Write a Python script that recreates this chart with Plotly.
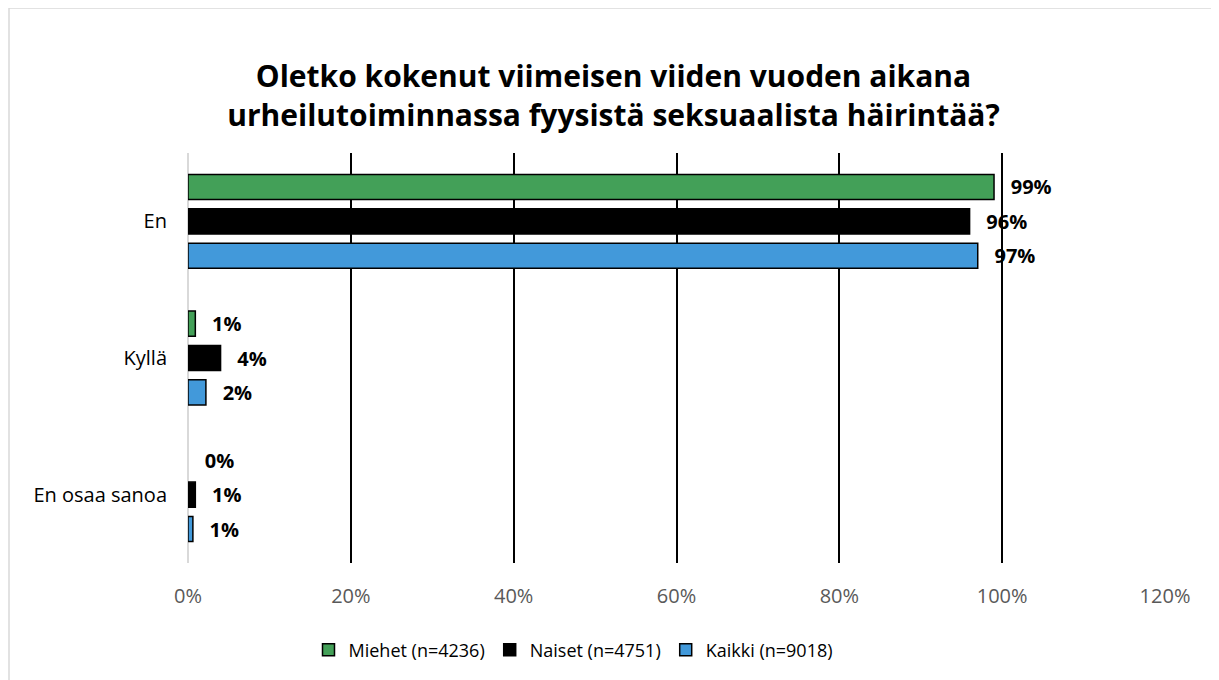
import plotly.graph_objects as go

categories = ["En", "Kyllä", "En osaa sanoa"]
series_names = ["Miehet (n=4236)", "Naiset (n=4751)", "Kaikki (n=9018)"]
miehet = [0.99, 0.009, 0.0]
naiset = [0.96, 0.04, 0.009]
kaikki = [0.97, 0.022, 0.006]
colors = ["#43A058", "#000000", "#4299DA"]
x_ticks = [0, 0.2, 0.4, 0.6, 0.8, 1.0, 1.2]
x_ticklabels = ["0%", "20%", "40%", "60%", "80%", "100%", "120%"]
title_text = "Oletko kokenut viimeisen viiden vuoden aikana<br>urheilutoiminnassa fyysistä seksuaalista häirintää?"

FONT = "Open Sans"
# page body has an 8px margin; figure is sized to fit inside the window
W, H = 1211, 672
L, R, T, B = 180, 54, 145, 117
PW = W - L - R
PH = H - T - B

fig = go.Figure()
for name, vals, col in zip(series_names, [miehet, naiset, kaikki], colors):
    fig.add_trace(go.Bar(
        name=name,
        y=categories,
        x=vals,
        orientation="h",
        marker=dict(color=col, line=dict(color="#000000",
                                         width=[1.5 if v > 0 else 0 for v in vals])),
        texttemplate="\u00a0\u00a0\u2009%{x:.0%}",
        textposition="outside",
        constraintext="none",
        cliponaxis=False,
        outsidetextfont=dict(family=FONT, size=20, color="#000000", weight="bold"),
        hoverinfo="skip",
    ))

fig.update_layout(
    width=W, height=H,
    paper_bgcolor="white", plot_bgcolor="white",
    margin=dict(l=L, r=R, t=T, b=B),
    barmode="group",
    bargap=0.245,
    bargroupgap=0.27,
    font=dict(family=FONT, color="#000000"),
    title=dict(
        text=title_text,
        x=0.5, xanchor="center", xref="container",
        y=1 - 79 / H, yanchor="middle", yref="container",
        font=dict(family=FONT, size=30, color="#000000", weight="bold"),
    ),
    xaxis=dict(
        range=[0, 1.2],
        tickvals=x_ticks, ticktext=x_ticklabels,
        showgrid=True, gridcolor="#000000", gridwidth=1.8,
        zeroline=True, zerolinecolor="#D9D9D9", zerolinewidth=2,
        showline=False,
        ticks="", ticklabelstandoff=19,
        tickfont=dict(family=FONT, size=20, color="#595959"),
        fixedrange=True,
    ),
    yaxis=dict(
        autorange="reversed",
        showgrid=False, zeroline=False, showline=False,
        ticks="", ticklabelstandoff=20,
        tickfont=dict(family=FONT, size=20, color="#000000"),
    ),
    legend=dict(
        orientation="h",
        x=(573.5 - 8 - L) / PW, xanchor="center",
        y=-(642 - (H - B)) / PH, yanchor="middle",
        font=dict(family=FONT, size=18, color="#000000"),
        itemwidth=30,
        traceorder="normal",
    ),
    shapes=[dict(
        type="rect", xref="paper", yref="paper",
        x0=(1 - L) / PW, x1=(W + 20 - L) / PW,
        y0=-(B + 20) / PH, y1=(H - B) / PH,
        line=dict(color="#D9D9D9", width=1.5),
        fillcolor="rgba(0,0,0,0)", layer="below",
    )],
)

fig.write_html("out.html")
